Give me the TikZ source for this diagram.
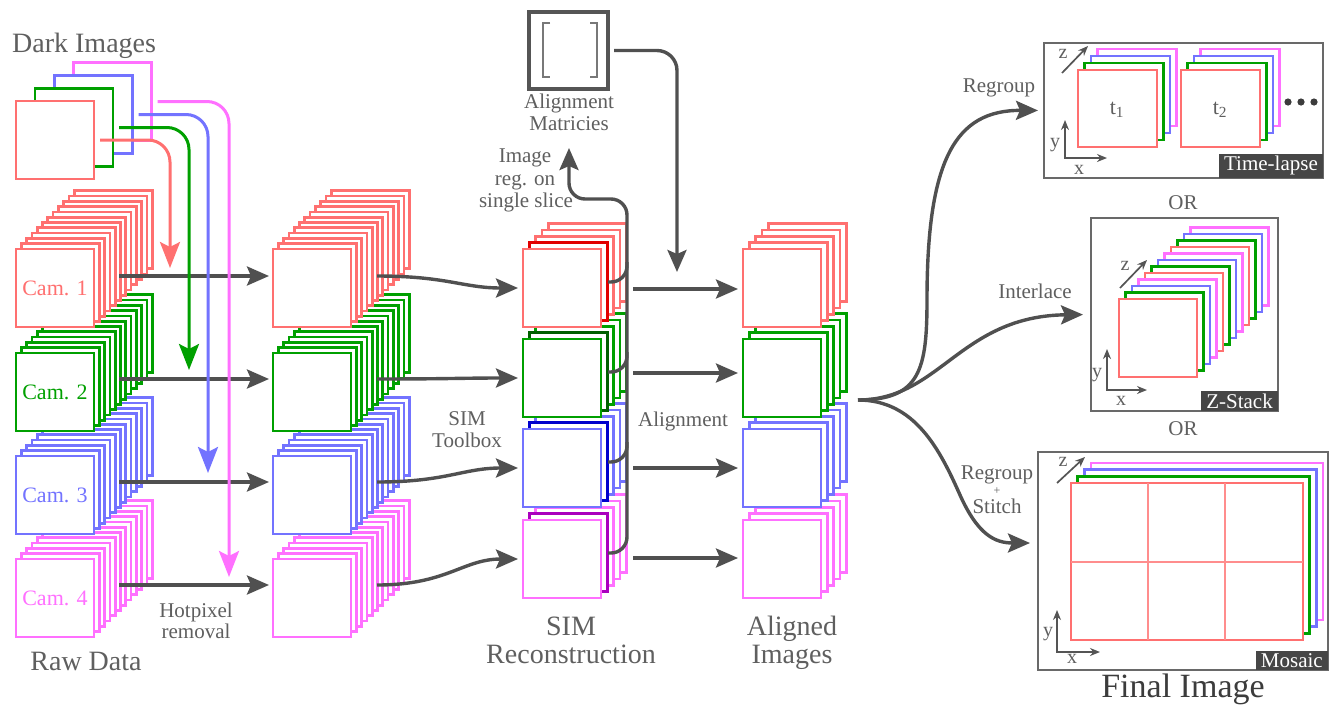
\documentclass[tikz,border=0pt]{standalone}
\usepackage{fontspec}
\setmainfont{Liberation Serif}
\usetikzlibrary{arrows.meta}

\definecolor{cred}{RGB}{255,112,112}
\definecolor{cgreen}{RGB}{0,160,0}
\definecolor{cblue}{RGB}{115,115,255}
\definecolor{cmag}{RGB}{255,112,255}
\definecolor{dred}{RGB}{225,0,0}
\definecolor{dgreen}{RGB}{0,95,0}
\definecolor{dblue}{RGB}{0,0,205}
\definecolor{dmag}{RGB}{170,0,190}
\definecolor{arrgray}{RGB}{80,80,80}
\definecolor{txtgray}{RGB}{95,95,95}
\definecolor{titlegray}{RGB}{60,60,60}
\definecolor{boxgray}{RGB}{85,85,85}
\definecolor{bracketgray}{RGB}{120,120,120}
\definecolor{panelgray}{RGB}{105,105,105}
\definecolor{taggray}{RGB}{70,70,70}
\definecolor{axgray}{RGB}{85,85,85}

\tikzset{
  sq/.style={line width=2.7pt, fill=white},
  frontsq/.style={sq, minimum width=78pt, minimum height=78pt, inner sep=0pt, outer sep=0pt},
  garrow/.style={draw=arrgray, line width=3.4pt, -{Stealth[length=22pt,width=19pt,inset=4pt]}},
  gline/.style={draw=arrgray, line width=3.4pt},
  carrow/.style={line width=3pt, rounded corners=22pt, -{Stealth[length=26pt,width=20pt,inset=5pt]}},
  bigtxt/.style={font=\fontsize{28}{30}\selectfont, text=txtgray, inner sep=0pt, anchor=base},
  smalltxt/.style={font=\fontsize{21}{23}\selectfont, text=txtgray, inner sep=0pt, anchor=base},
  camtxt/.style={font=\fontsize{22}{24}\selectfont},
  panel/.style={draw=panelgray, line width=2pt, fill=white, inner sep=0pt, outer sep=0pt},
  tag/.style={fill=taggray, text=white, font=\fontsize{21}{23}\selectfont, inner xsep=5pt, inner ysep=2.5pt, anchor=south east},
  axisline/.style={draw=axgray, line width=1.7pt},
  axtxt/.style={font=\fontsize{20}{22}\selectfont, text=txtgray, inner sep=0pt},
  bracket/.style={draw=bracketgray, line width=2pt},
  gridline/.style={draw=cred!80, line width=1.8pt},
  axtip/.tip={Stealth[length=10pt,width=8pt]},
}

% a stack of frames: #1,#2 top-left of the front frame; #3 frames behind it;
% #4 offset between frames; #5 colour; #6 colour of the frame just behind the
% front one; #7 name of the front frame; #8 its text
\newcommand\framestack[8]{%
  \foreach \k in {#3,...,2}
    \draw[sq,draw=#5] ({#1+\k*#4},{#2-\k*#4}) rectangle ++(78,78);
  \draw[sq,draw=#6] ({#1+#4},{#2-#4}) rectangle ++(78,78);
  \node[frontsq,draw=#5,text=#5,camtxt] (#7) at ({#1+39},{#2+39}) {#8};
}

% x/y axes with origin at (#1,#2)
\newcommand\xyaxes[4]{%
  \draw[axisline,{axtip}-{axtip}] (#1,{#2-#3}) -- (#1,#2) -- ({#1+#4},#2);
}

\begin{document}
\begin{tikzpicture}[x=1pt,y=-1pt]
\useasboundingbox (0,0) rectangle (1339,710);
\fill[white] (0,0) rectangle (1339,710);

% ---------- dark frames ----------
\node[frontsq,draw=cmag] (dk4) at (112.5,101.5) {};
\node[frontsq,draw=cblue] (dk3) at (93.5,114.5) {};
\node[frontsq,draw=cgreen] (dk2) at (74,127.5) {};
\node[frontsq,draw=cred] (dk1) at (55,140) {};

% ---------- raw data ----------
\framestack{16}{559}{11}{5.3}{cmag}{cmag}{raw4}{Cam. 4}
\framestack{16}{456}{11}{5.3}{cblue}{cblue}{raw3}{Cam. 3}
\framestack{16}{353}{11}{5.3}{cgreen}{cgreen}{raw2}{Cam. 2}
\framestack{16}{249}{11}{5.3}{cred}{cred}{raw1}{Cam. 1}

% ---------- after hot pixel removal ----------
\framestack{273}{559}{11}{5.3}{cmag}{cmag}{hp4}{}
\framestack{273}{456}{11}{5.3}{cblue}{cblue}{hp3}{}
\framestack{273}{353}{11}{5.3}{cgreen}{cgreen}{hp2}{}
\framestack{273}{249}{11}{5.3}{cred}{cred}{hp1}{}

% ---------- SIM reconstruction ----------
\framestack{523}{520}{4}{6.3}{cmag}{dmag}{sim4}{}
\framestack{523}{429}{4}{6.3}{cblue}{dblue}{sim3}{}
\framestack{523}{339}{4}{6.3}{cgreen}{dgreen}{sim2}{}
\framestack{523}{249}{4}{6.3}{cred}{dred}{sim1}{}

% ---------- aligned images ----------
\framestack{743}{520}{4}{6.3}{cmag}{cmag}{al4}{}
\framestack{743}{429}{4}{6.3}{cblue}{cblue}{al3}{}
\framestack{743}{339}{4}{6.3}{cgreen}{cgreen}{al2}{}
\framestack{743}{249}{4}{6.3}{cred}{cred}{al1}{}

% ---------- alignment matrices ----------
\node[draw=boxgray, line width=4pt, minimum width=79pt, minimum height=77pt,
      inner sep=0pt, outer sep=0pt] (amat) at (568.5,50.5) {};
\draw[bracket] (550,23) -- (543,23) -- (543,77) -- (550,77);
\draw[bracket] (590,23) -- (597,23) -- (597,77) -- (590,77);

% ---------- processing arrows ----------
\foreach \i/\y in {1/276,2/379,3/482,4/585}{
  \coordinate (rs\i) at (119,\y);
  \draw[garrow,shorten >=4pt] (rs\i) -- (hp\i.west |- rs\i);
  \coordinate (hs\i) at (377,\y);
  \draw[garrow,shorten >=5pt] (hs\i) .. controls +(70,0) and +(-60,0) .. (sim\i.west);
}
\foreach \i/\y in {1/289,2/373,3/468,4/558}{
  \coordinate (ss\i) at (633,\y);
  \draw[garrow,shorten >=5pt] (ss\i) -- (al\i.west |- ss\i);
}

% registration on a single slice
\coordinate (bs1) at (608,282);
\coordinate (bs2) at (608,372);
\coordinate (bs3) at (608,462);
\coordinate (bs4) at (608,553);
\coordinate (j1) at (627,262);
\coordinate (j2) at (627,352);
\coordinate (j3) at (627,442);
\coordinate (rtop) at (627,199);
\coordinate (regtip) at (569,148);
\draw[gline,rounded corners=16pt] (bs1) -| (j1);
\draw[gline,rounded corners=16pt] (bs2) -| (j2);
\draw[gline,rounded corners=16pt] (bs3) -| (j3);
\draw[garrow,rounded corners=16pt] (bs4) -| (rtop) -| (regtip);

% matrices applied to the reconstructions
\coordinate (adrop) at (677,272);
\draw[garrow,rounded corners=20pt] ([xshift=6pt]amat.east) -| (adrop);

% dark frames subtracted from the raw data
\coordinate (k1) at (170,268);
\coordinate (k2) at (189,370);
\coordinate (k3) at (208,473);
\coordinate (k4) at (229,577);
\draw[carrow,draw=cmag] ([xshift=6pt]dk4.east) -| (k4);
\draw[carrow,draw=cblue] ([xshift=6pt]dk3.east) -| (k3);
\draw[carrow,draw=cgreen] ([xshift=6pt]dk2.east) -| (k2);
\draw[carrow,draw=cred] ([xshift=6pt]dk1.east) -| (k1);

% ---------- final image panels ----------
\node[panel, minimum width=279pt, minimum height=135pt] (tl) at (1183.5,110.5) {};
\node[panel, minimum width=187pt, minimum height=193pt] (zs) at (1184.5,314.5) {};
\node[panel, minimum width=290pt, minimum height=218pt] (mo) at (1183,561) {};

% time-lapse
\foreach \g in {0,103}{
  \foreach \k/\c in {3/cmag,2/cblue,1/cgreen,0/cred}
    \draw[sq,draw=\c] ({1078+\g+6.5*\k},{70-7*\k}) rectangle ++(79,77);
}
\node[font=\fontsize{22}{24}\selectfont, text=txtgray, inner sep=0pt] (t1) at (1117,110) {t\textsubscript{1}};
\node[font=\fontsize{22}{24}\selectfont, text=txtgray, inner sep=0pt] (t2) at (1220,110) {t\textsubscript{2}};
\foreach \xx in {1288,1301,1314}
  \fill[titlegray] (\xx,102) circle[radius=3.6];
\xyaxes{1065}{158}{38}{42}
\draw[axisline,-{axtip}] (1062,73) -- (1088,46);
\node[axtxt] (tly) at (1055,145) {y};
\node[axtxt] (tlx) at (1079,170) {x};
\node[axtxt] (tlz) at (1063,54) {z};
\node[tag] (tltag) at (tl.south east) {Time-lapse};

% z-stack
\foreach \k/\c in {11/cmag,10/cblue,9/cgreen,8/cred,7/cmag,6/cblue,5/cgreen,4/cred,3/cmag,2/cblue,1/cgreen,0/cred}
  \draw[sq,draw=\c] ({1119+6.5*\k},{299-6.5*\k}) rectangle ++(78,78);
\xyaxes{1107}{390}{41}{40}
\draw[axisline,-{axtip}] (1120,288) -- (1147,260);
\node[axtxt] (zsy) at (1097,375) {y};
\node[axtxt] (zsx) at (1121,401) {x};
\node[axtxt] (zsz) at (1125,266) {z};
\node[tag] (zstag) at (zs.south east) {Z-Stack};

% mosaic
\foreach \k/\c in {3/cmag,2/cblue,1/cgreen,0/cred}
  \draw[sq,draw=\c] ({1071+6.7*\k},{483-6.7*\k}) rectangle ++(232,157);
\draw[gridline] (1148,483) -- (1148,640);
\draw[gridline] (1225,483) -- (1225,640);
\draw[gridline] (1071,562) -- (1303,562);
\xyaxes{1057}{652}{42}{43}
\draw[axisline,-{axtip}] (1057,483) -- (1085,457);
\node[axtxt] (moy) at (1048,634) {y};
\node[axtxt] (mox) at (1072,659) {x};
\node[axtxt] (moz) at (1063,462) {z};
\node[tag] (motag) at (mo.south east) {Mosaic};

% branches to the three outputs
\coordinate (jn) at (858,400);
\draw[garrow,shorten >=6pt] (jn) .. controls (920,400) and (927,370) .. (927,300)
  .. controls (927,160) and (955,110) .. (tl.west);
\draw[garrow,shorten >=8pt] (jn) .. controls (940,400) and (960,316) .. (zs.west);
\draw[garrow,shorten >=8pt] (jn) .. controls (915,400) and (940,450) .. (960,495)
  .. controls (978,535) and (995,543) .. ([yshift=18pt]mo.west);

% ---------- labels ----------
\node[bigtxt, anchor=base west] (ldark) at (12,52) {Dark Images};
\node[bigtxt] (lraw) at (86,670) {Raw Data};
\node[bigtxt] (lsim1) at (571,635) {SIM};
\node[bigtxt] (lsim2) at (571,663) {Reconstruction};
\node[bigtxt] (lal1) at (792,635) {Aligned};
\node[bigtxt] (lal2) at (792,663) {Images};
\node[bigtxt, font=\fontsize{34}{36}\selectfont, text=titlegray] (lfinal) at (1183,697) {Final Image};

\node[smalltxt] (lhot1) at (196,617) {Hotpixel};
\node[smalltxt] (lhot2) at (196,638) {removal};
\node[smalltxt] (ltb1) at (467,425) {SIM};
\node[smalltxt] (ltb2) at (467,447) {Toolbox};
\node[smalltxt] (lam1) at (569,108) {Alignment};
\node[smalltxt] (lam2) at (569,130) {Matricies};
\node[smalltxt] (lreg1) at (525,162) {Image};
\node[smalltxt] (lreg2) at (525,185) {reg. on};
\node[smalltxt] (lreg3) at (526,207) {single slice};
\node[smalltxt] (lalign) at (683,426) {Alignment};
\node[smalltxt] (lrg) at (999,92) {Regroup};
\node[smalltxt] (lil) at (1035,298) {Interlace};
\node[smalltxt] (lrs1) at (997,479) {Regroup};
\node[smalltxt, font=\fontsize{12}{13}\selectfont] (lrs2) at (997,494) {+};
\node[smalltxt] (lrs3) at (997,513) {Stitch};
\node[smalltxt] (lor1) at (1183,209) {OR};
\node[smalltxt] (lor2) at (1183,435) {OR};
\end{tikzpicture}
\end{document}
